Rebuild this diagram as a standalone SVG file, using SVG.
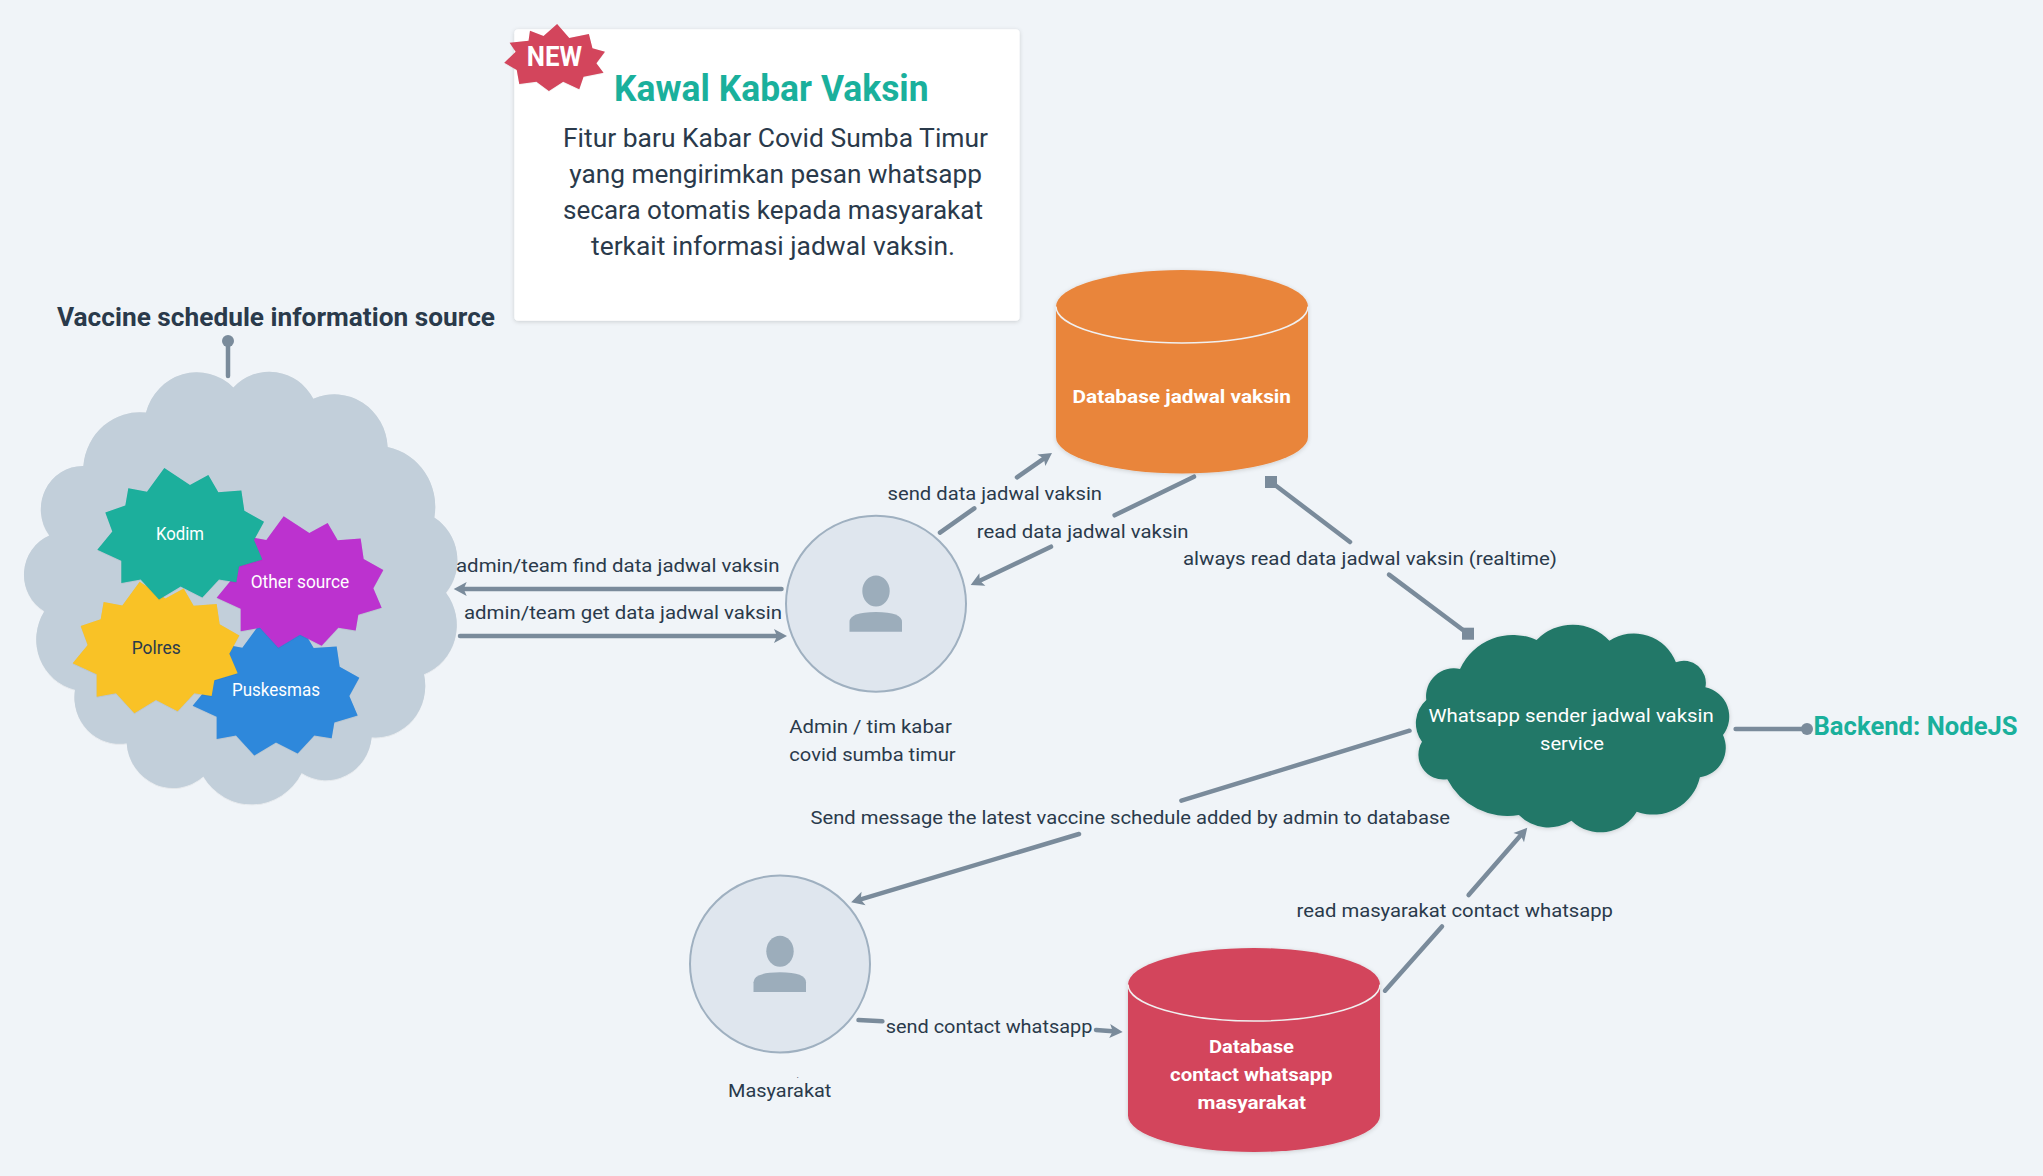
<svg xmlns="http://www.w3.org/2000/svg" xmlns:xlink="http://www.w3.org/1999/xlink" width="2043" height="1176" viewBox="0 0 2043 1176">
<style>
text{font-family:"Roboto","Liberation Sans",sans-serif;fill:#2a3a4b;font-size:19px}
.w{fill:#fff}
.b{font-weight:700}
.c{fill:none;stroke:#7a8b9b;stroke-width:4.500;stroke-linecap:round}
.a{marker-end:url(#arrow)}
.s{marker-end:url(#sq)}
.d{marker-end:url(#dot)}
.person{fill:#dfe6ee;stroke:#9fb0c0;stroke-width:2}
.icon{fill:#9cadbb}
.sh{filter:url(#shadow)}
.rim{stroke:#f0f0f0;stroke-width:1.500}
</style>
<defs>
<filter id="shadow" x="-10%" y="-10%" width="120%" height="120%"><feDropShadow dx="0" dy="1" stdDeviation="2" flood-color="#000" flood-opacity=".16"/></filter>
<marker id="arrow" markerUnits="userSpaceOnUse" markerWidth="16" markerHeight="16" refX="4" refY="8" orient="auto"><path d="M1 1L14 8L1 15L4 8Z" fill="#7a8b9b"/></marker>
<marker id="sq" markerUnits="userSpaceOnUse" markerWidth="14" markerHeight="14" refX="7" refY="7" orient="0"><rect x="1" y="1" width="12" height="12" fill="#7a8b9b"/></marker>
<marker id="dot" markerUnits="userSpaceOnUse" markerWidth="14" markerHeight="14" refX="7" refY="7"><circle cx="7" cy="7" r="6" fill="#7a8b9b"/></marker>
<polygon id="star" points="792,702 762,755 787,812 717,832 709,878 657,870 607,922 542,890 477,928 422,870 364,880 364,815 292,783 337,730 316,675 376,655 385,605 441,615 493,546 570,595 625,566 655,616 724,611 733,670"/>
<g id="face"><ellipse cx="876" cy="591" rx="13.700" ry="15.500"/><path d="M849.500 631.700V622Q849.500 612 876 612Q902 612 902 622V631.700Z"/></g>
</defs>
<rect width="2043" height="1176" fill="#f0f4f8"/>

<g id="connectors">
<path class="c d" d="M228 376V341"/>
<path class="c a" d="M781.500 589H463.700"/>
<path class="c a" d="M460 636H777"/>
<path class="c" d="M940 532.700L974.300 508.300"/>
<path class="c a" d="M1017 477.300L1043.800 458.600"/>
<path class="c" d="M1194 476.700L1114.600 515.300"/>
<path class="c a" d="M1051 546.700L979.700 580.800"/>
<path class="c s" d="M1350 542L1271 482"/>
<path class="c s" d="M1389 574.600L1468 633.700"/>
<path class="c" d="M1409.500 730.700L1181.400 800.700"/>
<path class="c a" d="M1079 834L860.700 899.400"/>
<path class="c" d="M858.500 1020L882.400 1021.300"/>
<path class="c a" d="M1096 1030L1112.700 1031.200"/>
<path class="c" d="M1385 990.700L1442 926.500"/>
<path class="c a" d="M1468.600 895L1520.700 835.300"/>
<path class="c d" d="M1735.600 729H1807"/>
</g>

<g id="card">
<rect class="sh" x="514.300" y="29.300" width="505.300" height="291.400" rx="4" fill="#fff"/>
<text class="b" x="614" y="100.500" textLength="314.600" lengthAdjust="spacingAndGlyphs" style="font-size:36px;fill:#1ab09c">Kawal Kabar Vaksin</text>
<text x="563" y="146.700" textLength="425" lengthAdjust="spacingAndGlyphs" style="font-size:26px">Fitur baru Kabar Covid Sumba Timur</text>
<text x="569.300" y="183.300" textLength="412.700" lengthAdjust="spacingAndGlyphs" style="font-size:26px">yang mengirimkan pesan whatsapp</text>
<text x="563" y="219.300" textLength="420" lengthAdjust="spacingAndGlyphs" style="font-size:26px">secara otomatis kepada masyarakat</text>
<text x="591" y="255" textLength="364" lengthAdjust="spacingAndGlyphs" style="font-size:26px">terkait informasi jadwal vaksin.</text>
</g>

<g id="new-badge">
<polygon class="sh" transform="translate(490 10) scale(.357 .3333)" fill="#d3455b" points="188,42 222,84 277,72 287,115 322,125 298,160 318,188 262,200 250,238 205,215 165,243 130,215 82,222 75,180 40,158 72,125 55,98 108,92 112,62 150,78"/>
<text class="w b" x="526.800" y="66" textLength="55.200" lengthAdjust="spacingAndGlyphs" style="font-size:27px">NEW</text>
</g>

<g id="source-title"><text class="b" x="57" y="326" textLength="438" lengthAdjust="spacingAndGlyphs" style="font-size:26px">Vaccine schedule information source</text></g>

<g id="source-cloud">
<path class="sh" transform="translate(0 280) scale(.33333 .34436)" fill="#c2cfda" d="M438 385A158 158 0 0 1 700 312A150 150 0 0 1 940 345A160 160 0 0 1 1163 485A177 177 0 0 1 1303 690A146 146 0 0 1 1338 908A153 153 0 0 1 1272 1145A150 150 0 0 1 1115 1328A138 138 0 0 1 905 1432A170 170 0 0 1 610 1442A140 140 0 0 1 380 1345A135 135 0 0 1 225 1190A150 150 0 0 1 133 962A123 123 0 0 1 148 742A126 126 0 0 1 250 540A170 170 0 0 1 438 385Z"/>
</g>
<g id="puskesmas">
<use class="sh" href="#star" transform="translate(0 280) scale(.33333 .34436) translate(286 453)" fill="#2e88db"/>
<text class="w" x="232" y="696" textLength="88" lengthAdjust="spacingAndGlyphs" style="font-size:18px">Puskesmas</text>
</g>
<g id="other-source">
<use class="sh" href="#star" transform="translate(0 280) scale(.33333 .34436) translate(358 140)" fill="#bc33cf"/>
<text class="w" x="250.700" y="587.500" textLength="98.600" lengthAdjust="spacingAndGlyphs" style="font-size:18px">Other source</text>
</g>
<g id="polres">
<use class="sh" href="#star" transform="translate(0 280) scale(.33333 .34436) translate(-74 330)" fill="#f9c225"/>
<text x="131.700" y="653.700" textLength="49" lengthAdjust="spacingAndGlyphs" style="font-size:18px">Polres</text>
</g>
<g id="kodim">
<use class="sh" href="#star" transform="translate(0 280) scale(.33333 .34436)" fill="#1aaf9c"/>
<text class="w" x="156" y="540" textLength="48" lengthAdjust="spacingAndGlyphs" style="font-size:18px">Kodim</text>
</g>

<g id="db-jadwal">
<path class="sh" fill="#e9853b" d="M1056 306.500A126 36.500 0 0 1 1308 306.500V437A126 36.500 0 0 1 1056 437Z"/>
<path class="rim" fill="none" d="M1056 306.500A126 36.500 0 0 0 1308 306.500"/>
<text class="w b" x="1072.500" y="402.600" textLength="218.500" lengthAdjust="spacingAndGlyphs">Database jadwal vaksin</text>
</g>

<g id="db-contact">
<path class="sh" fill="#d3455b" d="M1128 984.500A126 36.500 0 0 1 1380 984.500V1115.500A126 36.500 0 0 1 1128 1115.500Z"/>
<path class="rim" fill="none" d="M1128 984.500A126 36.500 0 0 0 1380 984.500"/>
<text class="w b" x="1209" y="1052.700" textLength="84.900" lengthAdjust="spacingAndGlyphs">Database</text>
<text class="w b" x="1170" y="1080.700" textLength="162.600" lengthAdjust="spacingAndGlyphs">contact whatsapp</text>
<text class="w b" x="1197.600" y="1108.700" textLength="108.400" lengthAdjust="spacingAndGlyphs">masyarakat</text>
</g>

<g id="admin">
<ellipse class="person" cx="876" cy="603.700" rx="90" ry="88"/>
<use class="icon" href="#face"/>
<text x="789.300" y="732.700" textLength="162.500" lengthAdjust="spacingAndGlyphs">Admin / tim kabar</text>
<text x="789.300" y="760.700" textLength="166.400" lengthAdjust="spacingAndGlyphs">covid sumba timur</text>
</g>

<g id="masyarakat">
<ellipse class="person" cx="780" cy="964" rx="90" ry="88.500"/>
<use class="icon" href="#face" transform="translate(-96 360.300)"/>
<text x="796.500" y="1078" style="font-size:9px">.</text>
<text x="728" y="1097" textLength="103.400" lengthAdjust="spacingAndGlyphs">Masyarakat</text>
</g>

<g id="whatsapp-service">
<path class="sh" fill="#207868" d="M1536.600 640A50 50 0 0 1 1609.400 640.700A45 45 0 0 1 1675.900 662.300A22 22 0 0 1 1705.400 687.300A30 30 0 0 1 1723 735A30 30 0 0 1 1699.900 777.300A48 48 0 0 1 1636.700 811.700A42 42 0 0 1 1571.500 820.700A42 42 0 0 1 1518.900 815A68 68 0 0 1 1447.300 779.300A25 25 0 0 1 1422 741.700A31 31 0 0 1 1426.300 700A28 28 0 0 1 1460 669A58 58 0 0 1 1536.600 640Z"/>
<text class="w" x="1428.400" y="721.700" textLength="285.400" lengthAdjust="spacingAndGlyphs">Whatsapp sender jadwal vaksin</text>
<text class="w" x="1540" y="749.700" textLength="64" lengthAdjust="spacingAndGlyphs">service</text>
</g>

<g id="backend-label"><text class="b" x="1813.500" y="734.500" textLength="204.100" lengthAdjust="spacingAndGlyphs" style="font-size:26px;fill:#1ab09c">Backend: NodeJS</text></g>

<g id="connector-labels">
<text x="456" y="572" textLength="323.500" lengthAdjust="spacingAndGlyphs">admin/team find data jadwal vaksin</text>
<text x="464" y="619" textLength="318" lengthAdjust="spacingAndGlyphs">admin/team get data jadwal vaksin</text>
<text x="887.500" y="500" textLength="214.500" lengthAdjust="spacingAndGlyphs">send data jadwal vaksin</text>
<text x="976.800" y="538" textLength="211.800" lengthAdjust="spacingAndGlyphs">read data jadwal vaksin</text>
<text x="1183" y="564.500" textLength="374" lengthAdjust="spacingAndGlyphs">always read data jadwal vaksin (realtime)</text>
<text x="810.500" y="824" textLength="639.500" lengthAdjust="spacingAndGlyphs">Send message the latest vaccine schedule added by admin to database</text>
<text x="1296.500" y="917" textLength="316.500" lengthAdjust="spacingAndGlyphs">read masyarakat contact whatsapp</text>
<text x="885.700" y="1032.700" textLength="206.700" lengthAdjust="spacingAndGlyphs">send contact whatsapp</text>
</g>
</svg>
